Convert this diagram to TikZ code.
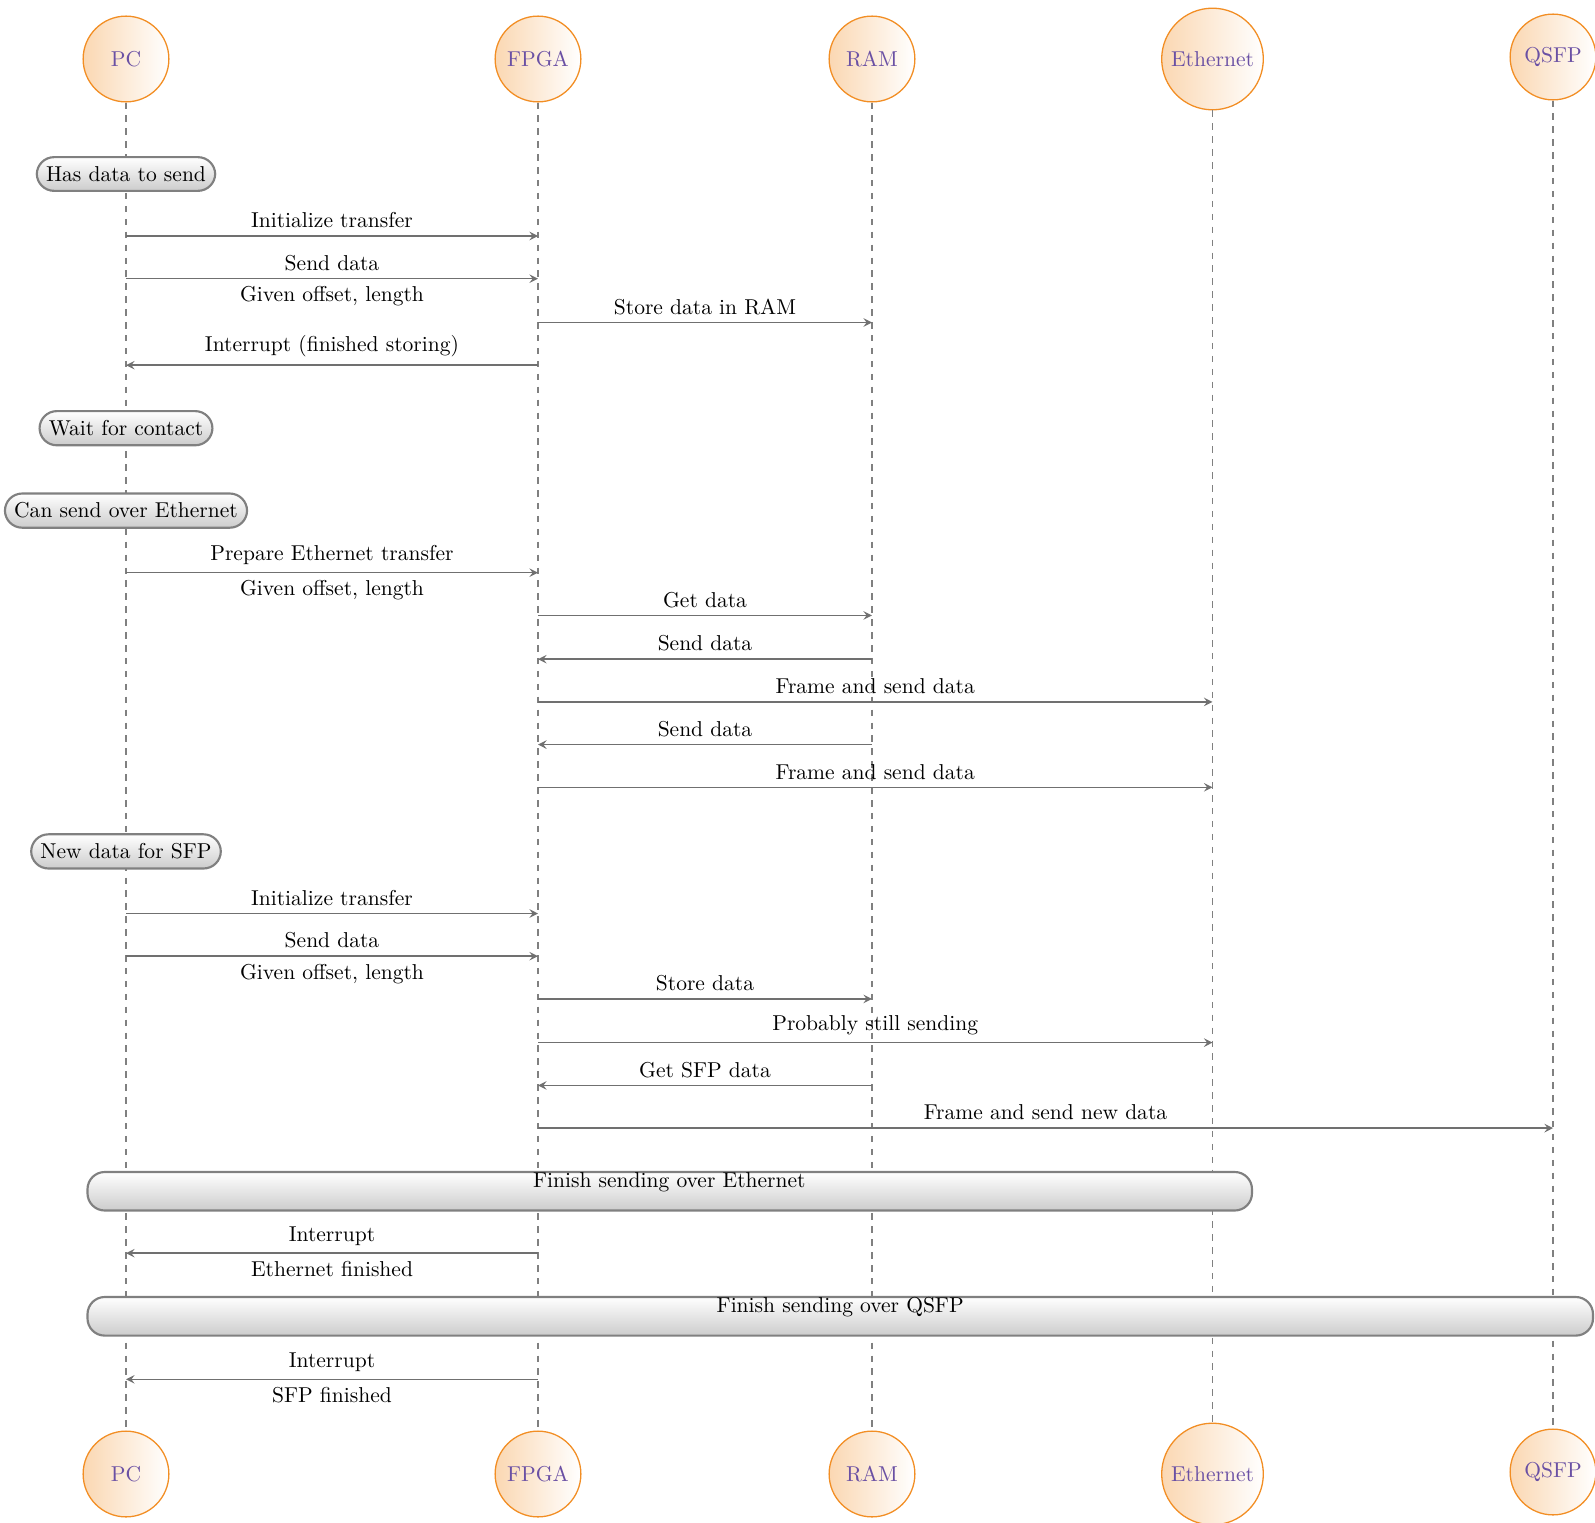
\documentclass[tikz,border=0pt]{standalone}
\usepackage{tikz}
\usetikzlibrary{arrows.meta,calc}
\definecolor{instorange}{RGB}{242,142,36}
\definecolor{instpurple}{RGB}{106,80,164}
\definecolor{msggray}{RGB}{112,112,112}
\tikzset{
	inst/.style={circle, draw=instorange, semithick, left color=instorange!35, right color=white, text=instpurple, minimum size=1.4cm},
	lifeline/.style={dashed, draw=gray, semithick},
	callblock/.style={draw=gray, line width=1pt, rounded corners=8pt, inner sep=4.3pt, top color=white, bottom color=gray!40},
	msgarrow/.style={-{Stealth[length=4pt, width=4pt, inset=1.5pt]}, draw=msggray, line width=0.7pt}
}

\begin{document}
\begin{tikzpicture}[x=0.4645pt, y=-0.4645pt]
			%%%%% FRAME %%%%%
			\useasboundingbox (0,0) rectangle (1595,1523);
			
			%%%%% INSTANCES %%%%%
			\node[inst] (pctop) at (126,59) {PC};
			\node[inst] (fpgatop) at (538,59) {FPGA};
			\node[inst] (ramtop) at (872,59) {RAM};
			\node[inst] (ethtop) at (1212.5,59) {Ethernet};
			\node[inst] (qsfptop) at (1553,57) {QSFP};
			
			\node[inst] (pcbot) at (126,1474) {PC};
			\node[inst] (fpgabot) at (538,1474) {FPGA};
			\node[inst] (rambot) at (872,1474) {RAM};
			\node[inst] (ethbot) at (1212.5,1474) {Ethernet};
			\node[inst] (qsfpbot) at (1553,1472) {QSFP};
			
			\draw[lifeline] (pctop) -- (pcbot);
			\draw[lifeline] (fpgatop) -- (fpgabot);
			\draw[lifeline] (ramtop) -- (rambot);
			\draw[lifeline] (ethtop) -- (ethbot);
			\draw[lifeline] (qsfptop) -- (qsfpbot);
			
			%%%%% STORE %%%%%
			\node[callblock] (hasdata) at (pctop |- 0,174) {Has data to send};
			\draw[msgarrow] (pctop |- 0,236) -- node[above] {Initialize transfer} (fpgatop |- 0,236);
			\draw[msgarrow] (pctop |- 0,278.7) -- node[above] {Send data} node[below] {Given offset, length} (fpgatop |- 0,278.7);
			\draw[msgarrow] (fpgatop |- 0,322.5) -- node[above] {Store data in RAM} (ramtop |- 0,322.5);
			\draw[msgarrow] (fpgatop |- 0,365.2) -- node[above] {Interrupt (finished storing)} (pctop |- 0,365.2);
			
			%%%%% ETHERNET %%%%%
			\node[callblock] (waitcontact) at (pctop |- 0,428.2) {Wait for contact};
			\node[callblock] (cansend) at (pctop |- 0,510.6) {Can send over Ethernet};
			\draw[msgarrow] (pctop |- 0,572.7) -- node[above] {Prepare Ethernet transfer} node[below] {Given offset, length} (fpgatop |- 0,572.7);
			\draw[msgarrow] (fpgatop |- 0,615.4) -- node[above] {Get data} (ramtop |- 0,615.4);
			\draw[msgarrow] (ramtop |- 0,659.2) -- node[above] {Send data} (fpgatop |- 0,659.2);
			\draw[msgarrow] (fpgatop |- 0,701.9) -- node[above] {Frame and send data} (ethtop |- 0,701.9);
			\draw[msgarrow] (ramtop |- 0,744.6) -- node[above] {Send data} (fpgatop |- 0,744.6);
			\draw[msgarrow] (fpgatop |- 0,787.3) -- node[above] {Frame and send data} (ethtop |- 0,787.3);
			
			%%%%% SFP %%%%%
			\node[callblock] (newdata) at (pctop |- 0,851.4) {New data for SFP};
			\draw[msgarrow] (pctop |- 0,913.5) -- node[above] {Initialize transfer} (fpgatop |- 0,913.5);
			\draw[msgarrow] (pctop |- 0,956.2) -- node[above] {Send data} node[below] {Given offset, length} (fpgatop |- 0,956.2);
			\draw[msgarrow] (fpgatop |- 0,998.9) -- node[above] {Store data} (ramtop |- 0,998.9);
			\draw[msgarrow] (fpgatop |- 0,1042.6) -- node[above] {Probably still sending} (ethtop |- 0,1042.6);
			\draw[msgarrow] (ramtop |- 0,1085.4) -- node[above] {Get SFP data} (fpgatop |- 0,1085.4);
			\draw[msgarrow] (fpgatop |- 0,1128.1) -- node[above] {Frame and send new data} (qsfptop |- 0,1128.1);
			
			%%%%% FINISH %%%%%
			\draw[callblock] (87.5,1172) rectangle (1252,1210.5);
			\node (fineth) at (669.3,1182) {Finish sending over Ethernet};
			\draw[msgarrow] (fpgatop |- 0,1253.2) -- node[above] {Interrupt} node[below] {Ethernet finished} (pctop |- 0,1253.2);
			
			\draw[callblock] (87.5,1297) rectangle (1593,1335.6);
			\node (finqsfp) at (840.2,1307) {Finish sending over QSFP};
			\draw[msgarrow] (fpgatop |- 0,1379.3) -- node[above] {Interrupt} node[below] {SFP finished} (pctop |- 0,1379.3);
			
			%%%%% END %%%%%
\end{tikzpicture}
\end{document}
